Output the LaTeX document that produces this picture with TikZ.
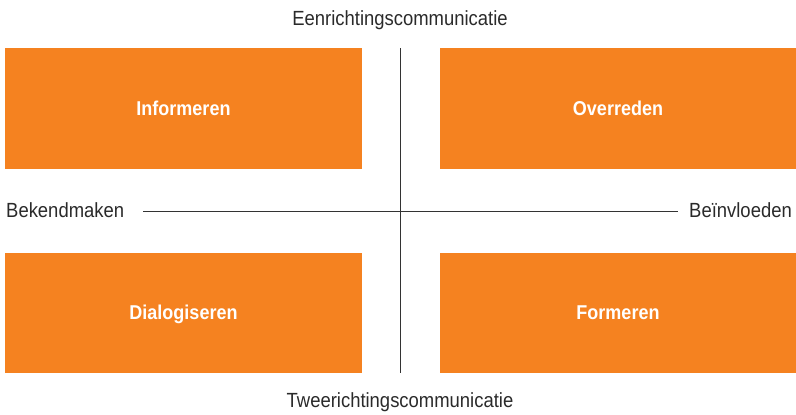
\documentclass[tikz,border=0pt]{standalone}
\usepackage{fontspec}
\setmainfont[FakeStretch=0.9]{Liberation Sans}
\newfontfamily\boxfont[FakeStretch=0.9]{Liberation Sans}
\definecolor{quadorange}{HTML}{F58220}
\definecolor{axisgray}{HTML}{333333}
\definecolor{labelgray}{HTML}{2A2A2A}
\begin{document}
\begin{tikzpicture}[x=1pt,y=-1pt,
  quadrant/.style={fill=quadorange,draw=none},
  quadtext/.style={text=white,font=\boxfont\bfseries\fontsize{20}{24}\selectfont,anchor=base,inner sep=0pt},
  axislabel/.style={text=labelgray,font=\fontsize{20.5}{24}\selectfont,anchor=base,inner sep=0pt},
  axis/.style={draw=axisgray,line width=1.4pt}]
  \useasboundingbox (0,0) rectangle (796,415);
  % four quadrants
  \fill[quadrant] (5,48) rectangle (362,169);
  \fill[quadrant] (440,48) rectangle (796,169);
  \fill[quadrant] (5,253) rectangle (362,373);
  \fill[quadrant] (440,253) rectangle (796,373);
  \node[quadtext] (inf) at (183.5,115) {Informeren};
  \node[quadtext] (ovr) at (618,115) {Overreden};
  \node[quadtext] (dia) at (183.5,319.5) {Dialogiseren};
  \node[quadtext] (frm) at (618,319.5) {Formeren};
  % axes
  \coordinate (vtop) at (400.7,48);
  \coordinate (vbot) at (400.7,373);
  \coordinate (hl) at (143,211.3);
  \coordinate (hr) at (678,211.3);
  \draw[axis] (vtop) -- (vbot);
  \draw[axis] (hl) -- (hr);
  % axis labels
  \node[axislabel] (een) at (400,25) {Eenrichtingscommunicatie};
  \node[axislabel] (twee) at (400,407) {Tweerichtingscommunicatie};
  \node[axislabel,anchor=base west] (bek) at (6,217) {Bekendmaken};
  \node[axislabel,anchor=base east] (bei) at (792,217) {Beïnvloeden};
\end{tikzpicture}
\end{document}
